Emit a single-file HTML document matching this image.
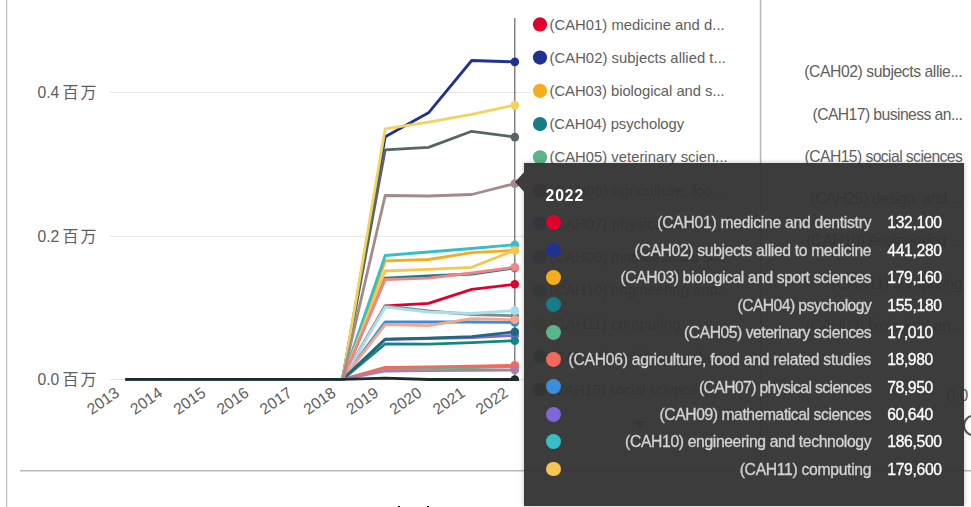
<!DOCTYPE html>
<html lang="zh"><head><meta charset="utf-8"><title>chart</title>
<style>
html,body{margin:0;padding:0;background:#fff;}
body{width:971px;height:507px;position:relative;overflow:hidden;font-family:"Liberation Sans","Noto Sans CJK SC",sans-serif;color:#605E5C;}
.abs{position:absolute;}
svg{position:absolute;left:0;top:0;}
.yl{position:absolute;left:0;width:96.5px;text-align:right;font-size:15.7px;line-height:20px;white-space:nowrap;}
.lg{position:absolute;left:549.5px;font-size:14.8px;line-height:20px;white-space:nowrap;}
.rl{position:absolute;font-size:15.7px;line-height:20px;white-space:nowrap;}
.tip{will-change:transform;position:absolute;left:524px;top:163px;width:440px;height:342.5px;background:rgba(51,51,51,0.958);box-shadow:0 0 5px rgba(0,0,0,0.25);}
.tt{position:absolute;left:21.5px;top:22.5px;font-size:15.7px;font-weight:bold;color:#fff;line-height:20px;}
.tr{position:absolute;left:0;width:440px;height:20px;line-height:20px;font-size:15.7px;color:#D4D4D4;white-space:nowrap;-webkit-text-stroke:0.3px;}
.tr .n{position:absolute;top:1.1px;}
.tr .v{position:absolute;left:363.3px;top:1.1px;color:#fff;}
.tr .d{position:absolute;left:21.8px;top:2.9px;width:14.8px;height:14.8px;border-radius:50%;}
</style></head><body>

<div class="abs" style="left:6px;top:0;width:1px;height:507px;background:#BDBDBD"></div>
<div class="abs" style="left:20px;top:470px;width:951px;height:1px;background:#B6B6B6"></div>
<div class="abs" style="left:20px;top:471px;width:951px;height:1px;background:#DEDEDE"></div>
<div class="abs" style="left:7px;top:0;width:1px;height:507px;background:#EEEEEE"></div>
<div class="abs" style="left:760px;top:0;width:1px;height:470px;background:#BABABA"></div>
<div class="abs" style="left:761px;top:0;width:1px;height:470px;background:#E6E6E6"></div>
<div class="abs" style="left:759px;top:0;width:1px;height:470px;background:#F0F0F0"></div>
<svg width="971" height="507" viewBox="0 0 971 507">
<line x1="110" y1="92.5" x2="531" y2="92.5" stroke="#E6E6E6" stroke-width="1"/>
<line x1="110" y1="236.5" x2="531" y2="236.5" stroke="#E6E6E6" stroke-width="1"/>
<line x1="110" y1="379.5" x2="531" y2="379.5" stroke="#E6E6E6" stroke-width="1"/>
<line x1="514.8" y1="18" x2="514.8" y2="379" stroke="#666" stroke-width="1.2"/>
<path d="M342.5,379.4 L385.2,305.9 L428.5,303.4 L471.7,289.4 L514.8,284.3" fill="none" stroke="#E0002B" stroke-width="2.8" stroke-linejoin="round" stroke-linecap="butt"/>
<path d="M342.5,379.4 L385.2,136.7 L428.5,112.8 L471.7,60.5 L514.8,61.9" fill="none" stroke="#21318F" stroke-width="2.8" stroke-linejoin="round" stroke-linecap="butt"/>
<path d="M342.5,379.4 L385.2,260.8 L428.5,259.5 L471.7,252.6 L514.8,250.3" fill="none" stroke="#F5AD1D" stroke-width="2.8" stroke-linejoin="round" stroke-linecap="butt"/>
<path d="M342.5,379.4 L385.2,278.1 L428.5,276.0 L471.7,274.0 L514.8,268.0" fill="none" stroke="#157C88" stroke-width="2.8" stroke-linejoin="round" stroke-linecap="butt"/>
<path d="M342.5,379.4 L385.2,368.5 L428.5,368.2 L471.7,367.5 L514.8,366.8" fill="none" stroke="#5BB58A" stroke-width="2.8" stroke-linejoin="round" stroke-linecap="butt"/>
<path d="M342.5,379.4 L385.2,367.4 L428.5,366.8 L471.7,366.2 L514.8,365.4" fill="none" stroke="#F4695C" stroke-width="2.8" stroke-linejoin="round" stroke-linecap="butt"/>
<path d="M342.5,379.4 L385.2,321.8 L428.5,322.0 L471.7,322.0 L514.8,322.5" fill="none" stroke="#3A8DDE" stroke-width="2.8" stroke-linejoin="round" stroke-linecap="butt"/>
<path d="M342.5,379.4 L385.2,339.5 L428.5,338.5 L471.7,337.5 L514.8,335.5" fill="none" stroke="#8066D6" stroke-width="2.8" stroke-linejoin="round" stroke-linecap="butt"/>
<path d="M342.5,379.4 L385.2,255.5 L428.5,252.0 L471.7,248.5 L514.8,244.7" fill="none" stroke="#37BEC8" stroke-width="2.8" stroke-linejoin="round" stroke-linecap="butt"/>
<path d="M342.5,379.4 L385.2,271.0 L428.5,269.3 L471.7,267.3 L514.8,250.2" fill="none" stroke="#F6C652" stroke-width="2.8" stroke-linejoin="round" stroke-linecap="butt"/>
<path d="M125.3,379.4 L342.5,379.4 L385.2,343.9 L428.5,344.1 L471.7,342.6 L514.8,340.7" fill="none" stroke="#13897D" stroke-width="2.8" stroke-linejoin="round" stroke-linecap="butt"/>
<path d="M342.5,379.4 L385.2,149.8 L428.5,147.4 L471.7,131.3 L514.8,137.1" fill="none" stroke="#566666" stroke-width="2.8" stroke-linejoin="round" stroke-linecap="butt"/>
<path d="M342.5,379.4 L385.2,305.9 L428.5,311.0 L471.7,314.5 L514.8,315.8" fill="none" stroke="#808A8A" stroke-width="2.8" stroke-linejoin="round" stroke-linecap="butt"/>
<path d="M342.5,379.4 L385.2,128.8 L428.5,122.2 L471.7,114.4 L514.8,105.1" fill="none" stroke="#F2D35E" stroke-width="2.8" stroke-linejoin="round" stroke-linecap="butt"/>
<path d="M342.5,379.4 L385.2,307.2 L428.5,312.0 L471.7,313.5 L514.8,310.6" fill="none" stroke="#A8DDEB" stroke-width="2.8" stroke-linejoin="round" stroke-linecap="butt"/>
<path d="M342.5,379.4 L385.2,324.6 L428.5,325.6 L471.7,318.6 L514.8,319.8" fill="none" stroke="#F4A58A" stroke-width="2.8" stroke-linejoin="round" stroke-linecap="butt"/>
<path d="M342.5,379.4 L385.2,339.1 L428.5,338.1 L471.7,336.7 L514.8,331.9" fill="none" stroke="#206880" stroke-width="2.8" stroke-linejoin="round" stroke-linecap="butt"/>
<path d="M342.5,379.4 L385.2,371.0 L428.5,370.7 L471.7,370.3 L514.8,370.0" fill="none" stroke="#B07AA8" stroke-width="2.8" stroke-linejoin="round" stroke-linecap="butt"/>
<path d="M342.5,379.4 L385.2,279.5 L428.5,278.1 L471.7,273.0 L514.8,267.2" fill="none" stroke="#F08585" stroke-width="2.8" stroke-linejoin="round" stroke-linecap="butt"/>
<path d="M342.5,379.4 L385.2,195.5 L428.5,196.0 L471.7,194.5 L514.8,183.6" fill="none" stroke="#A48A8A" stroke-width="2.8" stroke-linejoin="round" stroke-linecap="butt"/>
<path d="M125.3,379.4 L342.5,379.4 L385.2,378.2 L428.5,379.5 L471.7,379.5 L514.8,379.5" fill="none" stroke="#1E2B2B" stroke-width="2.8" stroke-linejoin="round" stroke-linecap="butt"/>
<clipPath id="pc"><rect x="100" y="0" width="440" height="381"/></clipPath><g clip-path="url(#pc)">
<circle cx="514.8" cy="284.3" r="4.3" fill="#E0002B"/>
<circle cx="514.8" cy="61.9" r="4.3" fill="#21318F"/>
<circle cx="514.8" cy="250.3" r="4.3" fill="#F5AD1D"/>
<circle cx="514.8" cy="268.0" r="4.3" fill="#157C88"/>
<circle cx="514.8" cy="366.8" r="4.3" fill="#5BB58A"/>
<circle cx="514.8" cy="365.4" r="4.3" fill="#F4695C"/>
<circle cx="514.8" cy="322.5" r="4.3" fill="#3A8DDE"/>
<circle cx="514.8" cy="335.5" r="4.3" fill="#8066D6"/>
<circle cx="514.8" cy="244.7" r="4.3" fill="#37BEC8"/>
<circle cx="514.8" cy="250.2" r="4.3" fill="#F6C652"/>
<circle cx="514.8" cy="340.7" r="4.3" fill="#13897D"/>
<circle cx="514.8" cy="137.1" r="4.3" fill="#566666"/>
<circle cx="514.8" cy="315.8" r="4.3" fill="#808A8A"/>
<circle cx="514.8" cy="105.1" r="4.3" fill="#F2D35E"/>
<circle cx="514.8" cy="310.6" r="4.3" fill="#A8DDEB"/>
<circle cx="514.8" cy="319.8" r="4.3" fill="#F4A58A"/>
<circle cx="514.8" cy="331.9" r="4.3" fill="#206880"/>
<circle cx="514.8" cy="370.0" r="4.3" fill="#B07AA8"/>
<circle cx="514.8" cy="267.2" r="4.3" fill="#F08585"/>
<circle cx="514.8" cy="183.6" r="4.3" fill="#A48A8A"/>
<circle cx="514.8" cy="379.5" r="4.3" fill="#1E2B2B"/>
</g>
<text transform="translate(114.0,386.0) rotate(-35)" text-anchor="end" font-size="15.7" letter-spacing="0" fill="#605E5C" font-family="Liberation Sans, sans-serif" dy="0.71em">2013</text>
<text transform="translate(157.2,386.0) rotate(-35)" text-anchor="end" font-size="15.7" letter-spacing="0" fill="#605E5C" font-family="Liberation Sans, sans-serif" dy="0.71em">2014</text>
<text transform="translate(200.4,386.0) rotate(-35)" text-anchor="end" font-size="15.7" letter-spacing="0" fill="#605E5C" font-family="Liberation Sans, sans-serif" dy="0.71em">2015</text>
<text transform="translate(243.6,386.0) rotate(-35)" text-anchor="end" font-size="15.7" letter-spacing="0" fill="#605E5C" font-family="Liberation Sans, sans-serif" dy="0.71em">2016</text>
<text transform="translate(286.8,386.0) rotate(-35)" text-anchor="end" font-size="15.7" letter-spacing="0" fill="#605E5C" font-family="Liberation Sans, sans-serif" dy="0.71em">2017</text>
<text transform="translate(330.5,386.0) rotate(-35)" text-anchor="end" font-size="15.7" letter-spacing="0" fill="#605E5C" font-family="Liberation Sans, sans-serif" dy="0.71em">2018</text>
<text transform="translate(373.2,386.0) rotate(-35)" text-anchor="end" font-size="15.7" letter-spacing="0" fill="#605E5C" font-family="Liberation Sans, sans-serif" dy="0.71em">2019</text>
<text transform="translate(416.5,386.0) rotate(-35)" text-anchor="end" font-size="15.7" letter-spacing="0" fill="#605E5C" font-family="Liberation Sans, sans-serif" dy="0.71em">2020</text>
<text transform="translate(459.7,386.0) rotate(-35)" text-anchor="end" font-size="15.7" letter-spacing="0" fill="#605E5C" font-family="Liberation Sans, sans-serif" dy="0.71em">2021</text>
<text transform="translate(502.8,386.0) rotate(-35)" text-anchor="end" font-size="15.7" letter-spacing="0" fill="#605E5C" font-family="Liberation Sans, sans-serif" dy="0.71em">2022</text>
<circle cx="540" cy="24.4" r="7.1" fill="#E0002B"/>
<circle cx="540" cy="57.6" r="7.1" fill="#21318F"/>
<circle cx="540" cy="90.8" r="7.1" fill="#F5AD1D"/>
<circle cx="540" cy="124.1" r="7.1" fill="#157C88"/>
<circle cx="540" cy="157.3" r="7.1" fill="#5BB58A"/>
<circle cx="540" cy="190.5" r="7.1" fill="#F4695C"/>
<circle cx="540" cy="223.7" r="7.1" fill="#3A8DDE"/>
<circle cx="540" cy="256.9" r="7.1" fill="#8066D6"/>
<circle cx="540" cy="290.2" r="7.1" fill="#37BEC8"/>
<circle cx="540" cy="323.4" r="7.1" fill="#F6C652"/>
<circle cx="540" cy="356.6" r="7.1" fill="#13897D"/>
<circle cx="540" cy="389.8" r="7.1" fill="#566666"/>
<path d="M633,421 L646,421 L639.5,427.5 Z" fill="#605E5C"/>
<circle cx="974" cy="425.5" r="10" fill="#fff" stroke="#555" stroke-width="2"/>
</svg>
<div class="yl" style="top:83.4px;word-spacing:-1.1px">0.4 <span style="font-size:16px;letter-spacing:2px;margin-right:-2px">百万</span></div>
<div class="yl" style="top:227.4px;word-spacing:-1.1px">0.2 <span style="font-size:16px;letter-spacing:2px;margin-right:-2px">百万</span></div>
<div class="yl" style="top:370.4px;word-spacing:-1.1px">0.0 <span style="font-size:16px;letter-spacing:2px;margin-right:-2px">百万</span></div>
<div class="lg" style="top:14.5px;letter-spacing:0.034px">(CAH01) medicine and d...</div>
<div class="lg" style="top:47.7px;letter-spacing:0.048px">(CAH02) subjects allied t...</div>
<div class="lg" style="top:80.9px;letter-spacing:-0.030px">(CAH03) biological and s...</div>
<div class="lg" style="top:114.2px;letter-spacing:-0.066px">(CAH04) psychology</div>
<div class="lg" style="top:147.4px;letter-spacing:0.021px">(CAH05) veterinary scien...</div>
<div class="lg" style="top:180.6px;letter-spacing:0.164px">(CAH06) agriculture, foo...</div>
<div class="lg" style="top:213.8px;letter-spacing:0.115px">(CAH07) physical scienc...</div>
<div class="lg" style="top:247.0px;letter-spacing:-0.015px">(CAH09) mathematical sc...</div>
<div class="lg" style="top:280.3px;letter-spacing:0.014px">(CAH10) engineering and...</div>
<div class="lg" style="top:313.5px;letter-spacing:0.133px">(CAH11) computing</div>
<div class="lg" style="top:346.7px;letter-spacing:0.056px">(CAH13) architecture, bu...</div>
<div class="lg" style="top:379.9px;letter-spacing:-0.290px">(CAH15) social sciences</div>
<div class="rl" style="left:804.2px;top:61.8px;letter-spacing:-0.407px">(CAH02) subjects allie...</div>
<div class="rl" style="left:812.5px;top:104.8px;letter-spacing:-0.563px">(CAH17) business an...</div>
<div class="rl" style="left:804.6px;top:146.5px;letter-spacing:-0.573px">(CAH15) social sciences</div>
<div class="rl" style="left:810.3px;top:189.2px;letter-spacing:-0.519px">(CAH25) design, and ...</div>
<div class="rl" style="left:806.4px;top:231.1px;letter-spacing:-0.387px">(CAH10) engineering ...</div>
<div class="rl" style="left:831.5px;top:274.0px;letter-spacing:-0.341px">(CAH11) computing</div>
<div class="rl" style="left:805.5px;top:316.0px;letter-spacing:-0.370px">(CAH03) biological an...</div>
<div class="abs" style="left:946.5px;top:385.6px;font-size:15.7px;line-height:20px;">0.0</div>
<div class="abs" style="left:397.5px;top:506px;width:2.4px;height:1px;background:#111"></div>
<div class="abs" style="left:426.5px;top:506px;width:2.4px;height:1px;background:#111"></div>
<div class="tip">
<svg width="12" height="22" style="left:-9px;top:7.8px;overflow:visible"><path d="M9,1.3 L0,11 L9,20.7 Z" fill="rgba(51,51,51,0.958)"/></svg>
<div class="tt" style="letter-spacing:0.925px">2022</div>
<div class="tr" style="top:49.4px"><span class="d" style="background:#E0002B"></span><span class="n" style="left:133.3px;letter-spacing:-0.281px">(CAH01) medicine and dentistry</span><span class="v" style="letter-spacing:-0.329px">132,100</span></div>
<div class="tr" style="top:76.8px"><span class="d" style="background:#21318F"></span><span class="n" style="left:110.6px;letter-spacing:-0.340px">(CAH02) subjects allied to medicine</span><span class="v" style="letter-spacing:-0.329px">441,280</span></div>
<div class="tr" style="top:104.1px"><span class="d" style="background:#F5AD1D"></span><span class="n" style="left:96.5px;letter-spacing:-0.412px">(CAH03) biological and sport sciences</span><span class="v" style="letter-spacing:-0.329px">179,160</span></div>
<div class="tr" style="top:131.5px"><span class="d" style="background:#157C88"></span><span class="n" style="left:213.5px;letter-spacing:-0.564px">(CAH04) psychology</span><span class="v" style="letter-spacing:-0.329px">155,180</span></div>
<div class="tr" style="top:158.9px"><span class="d" style="background:#5BB58A"></span><span class="n" style="left:160.0px;letter-spacing:-0.461px">(CAH05) veterinary sciences</span><span class="v" style="letter-spacing:-0.414px">17,010</span></div>
<div class="tr" style="top:186.2px"><span class="d" style="background:#F4695C"></span><span class="n" style="left:44.5px;letter-spacing:-0.269px">(CAH06) agriculture, food and related studies</span><span class="v" style="letter-spacing:-0.414px">18,980</span></div>
<div class="tr" style="top:213.6px"><span class="d" style="background:#3A8DDE"></span><span class="n" style="left:175.0px;letter-spacing:-0.610px">(CAH07) physical sciences</span><span class="v" style="letter-spacing:-0.414px">78,950</span></div>
<div class="tr" style="top:241.0px"><span class="d" style="background:#8066D6"></span><span class="n" style="left:135.5px;letter-spacing:-0.426px">(CAH09) mathematical sciences</span><span class="v" style="letter-spacing:-0.414px">60,640</span></div>
<div class="tr" style="top:268.4px"><span class="d" style="background:#37BEC8"></span><span class="n" style="left:101.1px;letter-spacing:-0.354px">(CAH10) engineering and technology</span><span class="v" style="letter-spacing:-0.329px">186,500</span></div>
<div class="tr" style="top:295.7px"><span class="d" style="background:#F6C652"></span><span class="n" style="left:215.7px;letter-spacing:-0.299px">(CAH11) computing</span><span class="v" style="letter-spacing:-0.329px">179,600</span></div>
</div>
</body></html>
